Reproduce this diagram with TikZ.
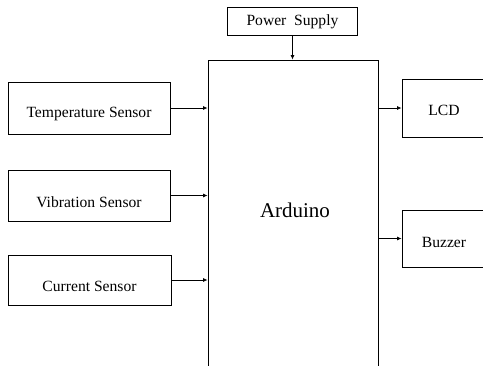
\documentclass[tikz,border=0pt]{standalone}
\usepackage{fontspec}
\setmainfont{Liberation Serif}
\usetikzlibrary{arrows.meta}
\begin{document}
\begin{tikzpicture}[x=1pt,y=-1pt,
  blk/.style={draw, line width=0.8pt, inner sep=0pt, text depth=0pt, font=\fontsize{15.6}{18}\selectfont},
  arr/.style={line width=0.8pt, -{Latex[length=4.5pt,width=4pt]}}]
\useasboundingbox (0,0) rectangle (483,365);
\clip (0,0) rectangle (483,365);
\node[blk, minimum width=130pt, minimum height=28pt, text height=9pt] (ps) at (292.5,21) {Power\ \ Supply};
\node[blk, minimum width=170pt, minimum height=320pt] (ard) at (293,220) {};
\node[font=\fontsize{21}{24}\selectfont, inner sep=0pt, text height=13.4pt, text depth=0pt] (ardlbl) at (295,211) {Arduino};
\node[blk, minimum width=162pt, minimum height=52pt, text height=18pt] (temp) at (89,108) {Temperature Sensor};
\node[blk, minimum width=162pt, minimum height=51pt, text height=23pt] (vib) at (89,195.5) {Vibration Sensor};
\node[blk, minimum width=163pt, minimum height=50pt, text height=22pt] (cur) at (89.5,280) {Current Sensor};
\node[blk, minimum width=84pt, minimum height=58pt, text height=14pt] (lcd) at (444,108) {LCD};
\node[blk, minimum width=84pt, minimum height=57pt, text height=17pt] (buz) at (444,238.5) {Buzzer};
\draw[arr] (ps.south) -- (ps.south |- ard.north);
\draw[arr] (temp.east) -- (temp.east -| ard.west);
\draw[arr] (vib.east) -- (vib.east -| ard.west);
\draw[arr] (cur.east) -- (cur.east -| ard.west);
\draw[arr] (ard.east |- lcd.west) -- (lcd.west);
\draw[arr] (ard.east |- buz.west) -- (buz.west);
\end{tikzpicture}
\end{document}
